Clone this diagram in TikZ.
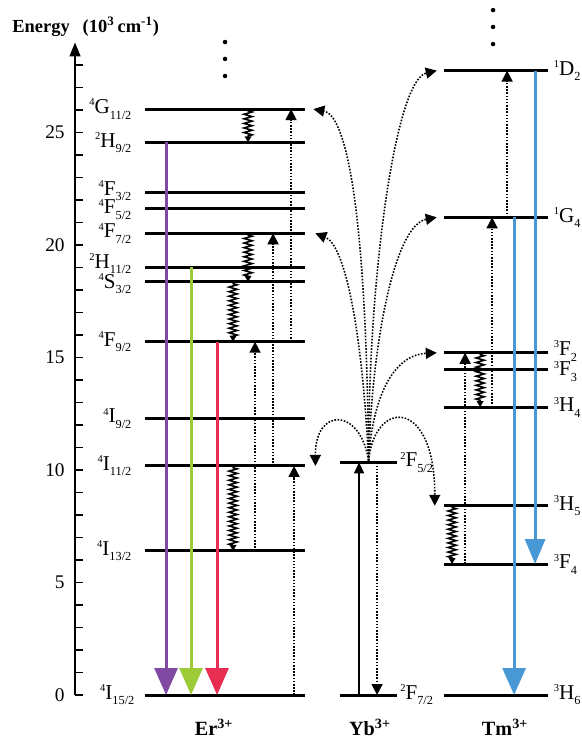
\documentclass[tikz,border=0pt]{standalone}
\usepackage{fontspec}
\setmainfont{Liberation Serif}
\usepackage{xcolor}
\usetikzlibrary{positioning, arrows.meta, decorations.pathmorphing}

\definecolor{erviolet}{RGB}{128,74,162}
\definecolor{ergreen}{RGB}{157,203,56}
\definecolor{erred}{RGB}{232,45,82}
\definecolor{tmblue}{RGB}{72,152,214}

\newcommand{\tsym}[3]{\raisebox{0.8ex}{\fontsize{6}{6}\selectfont #1}#2\raisebox{-0.55ex}{\fontsize{7}{7}\selectfont #3}}

\tikzset{
  lvl/.style={fill=black, inner sep=0pt, minimum height=0.06cm},
  erlvl/.style={lvl, minimum width=3.2cm},
  yblvl/.style={lvl, minimum width=1.14cm},
  tmlvl/.style={lvl, minimum width=2.08cm},
  lbl/.style={inner sep=0pt, font=\fontsize{12}{12}\selectfont},
  ion/.style={anchor=base, inner sep=0pt, font=\fontsize{11.5}{11.5}\selectfont\bfseries},
  emis/.style={line width=0.06cm, -{Triangle[width=0.46cm, length=0.54cm]}},
  pump/.style={line width=0.9pt, dash pattern=on 0.9pt off 0.9pt, -{Triangle[width=0.22cm, length=0.22cm]}},
  nonrad/.style={line width=0.9pt, -{Triangle[width=0.13cm, length=0.12cm]}, decorate,
    decoration={zigzag, segment length=2.6pt, amplitude=2.3pt, pre length=1pt, post length=3pt}},
}

\begin{document}
\begin{tikzpicture}[x=0.02cm, y=0.45cm]
  \useasboundingbox (0,-1.911) rectangle (581,30.889);

  % Axis
  \node[anchor=base west, inner sep=0pt, font=\fontsize{10.5}{10.5}\selectfont\bfseries] (elabel) at (12,29.44) {Energy\hspace{0.7em}(10\textsuperscript{3}\,cm\textsuperscript{-1})};
  \draw[line width=0.9pt, -{Triangle[width=0.22cm, length=0.28cm]}] (75,0) -- (75,29.0);
  \foreach \e in {0,...,28}
    \draw[line width=0.9pt] (75,\e) -- (83,\e);
  \foreach \e in {0,5,...,25}
    \node[anchor=east, inner sep=0pt, font=\fontsize{11}{11}\selectfont] (tick\e) at (65,\e) {\e};

  % Er3+ levels
  \node[erlvl] (erGa) at (225,26.04) {};
  \node[erlvl] (erHa) at (225,24.56) {};
  \node[erlvl] (erFa) at (225,22.34) {};
  \node[erlvl] (erFb) at (225,21.63) {};
  \node[erlvl] (erFc) at (225,20.52) {};
  \node[erlvl] (erHb) at (225,19.01) {};
  \node[erlvl] (erS) at (225,18.36) {};
  \node[erlvl] (erFd) at (225,15.70) {};
  \node[erlvl] (erIa) at (225,12.30) {};
  \node[erlvl] (erIb) at (225,10.18) {};
  \node[erlvl] (erIc) at (225,6.40) {};
  \node[erlvl] (erId) at (225,0) {};

  \node[lbl, left=0.26cm of erGa] (erGaL) {\tsym{4}{G}{11/2}};
  \node[lbl, left=0.26cm of erHa] (erHaL) {\tsym{2}{H}{9/2}};
  \node[lbl, left=0.26cm of erFa, yshift=1pt] (erFaL) {\tsym{4}{F}{3/2}};
  \node[lbl, left=0.26cm of erFb, yshift=-0.5pt] (erFbL) {\tsym{4}{F}{5/2}};
  \node[lbl, left=0.26cm of erFc] (erFcL) {\tsym{4}{F}{7/2}};
  \node[lbl, left=0.26cm of erHb, yshift=2pt] (erHbL) {\tsym{2}{H}{11/2}};
  \node[lbl, left=0.26cm of erS, yshift=-1pt] (erSL) {\tsym{4}{S}{3/2}};
  \node[lbl, left=0.26cm of erFd] (erFdL) {\tsym{4}{F}{9/2}};
  \node[lbl, left=0.26cm of erIa] (erIaL) {\tsym{4}{I}{9/2}};
  \node[lbl, left=0.26cm of erIb] (erIbL) {\tsym{4}{I}{11/2}};
  \node[lbl, left=0.26cm of erIc] (erIcL) {\tsym{4}{I}{13/2}};
  \node[lbl, left=0.2cm of erId] (erIdL) {\tsym{4}{I}{15/2}};

  % Yb3+ levels
  \node[yblvl] (ybF5) at (368.5,10.34) {};
  \node[yblvl] (ybF7) at (368.5,0) {};
  \node[lbl, right=0.05cm of ybF5] (ybF5L) {\tsym{2}{F}{5/2}};
  \node[lbl, right=0.05cm of ybF7] (ybF7L) {\tsym{2}{F}{7/2}};

  % Tm3+ levels
  \node[tmlvl] (tmD) at (496,27.75) {};
  \node[tmlvl] (tmGa) at (496,21.23) {};
  \node[tmlvl] (tmFa) at (496,15.21) {};
  \node[tmlvl] (tmFb) at (496,14.47) {};
  \node[tmlvl] (tmHa) at (496,12.79) {};
  \node[tmlvl] (tmHb) at (496,8.41) {};
  \node[tmlvl] (tmFc) at (496,5.82) {};
  \node[tmlvl] (tmHc) at (496,0) {};

  \node[lbl, right=0.1cm of tmD] (tmDL) {\tsym{1}{D}{2}};
  \node[lbl, right=0.1cm of tmGa] (tmGaL) {\tsym{1}{G}{4}};
  \node[lbl, right=0.1cm of tmFa, yshift=1pt] (tmFaL) {\tsym{3}{F}{2}};
  \node[lbl, right=0.1cm of tmFb, yshift=-1pt] (tmFbL) {\tsym{3}{F}{3}};
  \node[lbl, right=0.1cm of tmHa] (tmHaL) {\tsym{3}{H}{4}};
  \node[lbl, right=0.1cm of tmHb] (tmHbL) {\tsym{3}{H}{5}};
  \node[lbl, right=0.1cm of tmFc] (tmFcL) {\tsym{3}{F}{4}};
  \node[lbl, right=0.1cm of tmHc] (tmHcL) {\tsym{3}{H}{6}};

  % higher levels
  \foreach \e in {29.02,28.27,27.51}
    \fill (225,\e) circle (0.045cm);
  \foreach \e in {30.44,29.69,28.93}
    \fill (493,\e) circle (0.045cm);

  % Er3+ transitions
  \draw[emis, erviolet] (166,0 |- erHa) -- (166,0 |- erId);
  \draw[emis, ergreen] (191,0 |- erHb) -- (191,0 |- erId);
  \draw[emis, erred] (217,0 |- erFd) -- (217,0 |- erId);
  \draw[pump] (294,0 |- erId) -- (294,0 |- erIb);
  \draw[pump] (255,0 |- erIc) -- (255,0 |- erFd);
  \draw[pump] (273,0 |- erIb) -- (273,0 |- erFc);
  \draw[pump] (291,0 |- erFd) -- (291,0 |- erGa);
  \draw[nonrad] (248,0 |- erGa) -- (248,0 |- erHa);
  \draw[nonrad] (248,0 |- erFc) -- (248,0 |- erS);
  \draw[nonrad] (233,0 |- erS) -- (233,0 |- erFd);
  \draw[nonrad] (233,0 |- erIb) -- (233,0 |- erIc);

  % Yb3+ transitions
  \draw[line width=0.7pt, -{Triangle[width=0.2cm, length=0.22cm]}] (359,0 |- ybF7) -- (359,0 |- ybF5);
  \draw[pump] (377,0 |- ybF5) -- (377,0 |- ybF7);

  % energy transfer
  \draw[pump] (ybF5.north) .. controls (366,22.0) and (345,25.78) .. ([xshift=0.16cm]erGa.east);
  \draw[pump] (ybF5.north) .. controls (362,16.22) and (345,20.0) .. ([xshift=0.2cm]erFc.east);
  \draw[pump] (ybF5.north) .. controls (360,12.8) and (315,12.8) .. ([xshift=0.2cm]erIb.east);
  \draw[pump] (ybF5.north) .. controls (368,18.44) and (395,27.33) .. ([xshift=-0.14cm]tmD.west);
  \draw[pump] (ybF5.north) .. controls (372,15.78) and (395,20.89) .. ([xshift=-0.14cm]tmGa.west);
  \draw[pump] (ybF5.north) .. controls (372,13.11) and (392,15.11) .. ([xshift=-0.14cm]tmFa.west);
  \draw[pump] (ybF5.north) .. controls (375,13.2) and (435,13.2) .. ([xshift=-0.18cm]tmHb.west);

  % Tm3+ transitions
  \draw[emis, tmblue, -{Triangle[width=0.4cm, length=0.5cm]}] (535,0 |- tmD) -- (535,0 |- tmFc);
  \draw[emis, tmblue] (514,0 |- tmGa) -- (514,0 |- tmHc);
  \draw[pump] (507,0 |- tmGa) -- (507,0 |- tmD);
  \draw[pump] (492,0 |- tmHa) -- (492,0 |- tmGa);
  \draw[pump] (465,0 |- tmFc) -- (465,0 |- tmFa);
  \draw[nonrad] (480,0 |- tmFa) -- (480,0 |- tmHa);
  \draw[nonrad] (452,0 |- tmHb) -- (452,0 |- tmFc);

  % ions
  \node[ion] (er) at (214,-1.81) {Er\textsuperscript{3+}};
  \node[ion] (yb) at (370,-1.81) {Yb\textsuperscript{3+}};
  \node[ion] (tm) at (505,-1.81) {Tm\textsuperscript{3+}};
\end{tikzpicture}
\end{document}
